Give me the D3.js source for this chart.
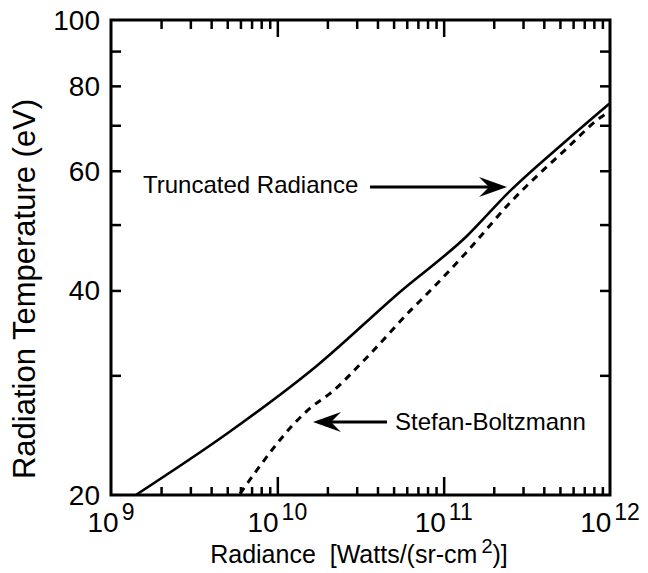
<!DOCTYPE html>
<html><head><meta charset="utf-8">
<script src="https://cdn.jsdelivr.net/npm/d3@7"></script>
<style>
body{margin:0;background:#fff}
svg{display:block}
text{font-family:"Liberation Sans",Arial,Helvetica,sans-serif;fill:#000}
</style>
</head><body>
<svg id="chart" width="648" height="573"></svg>
<script>
// ---- data ----
const truncRadiance = [1.41e9, 5.19e9, 1.73e10, 5.46e10, 1.38e11, 2.50e11, 5.52e11, 9.9e11];
const truncTemp     = [20.0,   24.8,   31.0,    39.8,    48.1,    56.0,    66.6,    75.3];
const sbRadiance = [5.97e9, 1.62e10, 2.07e10, 3.46e10, 6.54e10, 7.52e10, 1.38e11, 2.50e11, 5.52e11, 8.71e11, 9.6e11];
const sbTemp     = [20.1,   27.0,    28.2,    31.9,    37.7,    39.0,    45.6,    53.8,    64.8,    71.8,    73.0];
const xDecades = [1e9, 1e10, 1e11, 1e12];
const xExponents = ["9", "10", "11", "12"];
const yLabelTicks = [20, 40, 60, 80, 100];
const yMinorTicks = [30, 50, 70, 90];
const labelTruncated = "Truncated Radiance";
const labelSB = "Stefan-Boltzmann";
const xTitle = "Radiance  [Watts/(sr-cm";
const xTitleSup = "2";
const xTitleEnd = ")]";
const yTitle = "Radiation Temperature (eV)";

// ---- layout ----
const L = 111, R = 610, T = 20, B = 495;
const svg = d3.select("#chart");
const x = d3.scaleLog().domain([1e9, 1e12]).range([L, R]);
const y = d3.scaleLog().domain([20, 100]).range([B, T]);

const xMinor = [];
xDecades.slice(0, 3).forEach(d => { for (let k = 2; k <= 9; k++) xMinor.push(d * k); });
const xMajorInner = [1e10, 1e11];
const yAllTicks = yLabelTicks.concat(yMinorTicks).filter(v => v > 20 && v < 100);

function styleAxis(g) {
  g.select(".domain").remove();
  g.selectAll(".tick line").attr("stroke", "#000").attr("stroke-width", 2.5);
  g.selectAll(".tick text").remove();
}
svg.append("g").attr("transform", `translate(0,${B})`)
  .call(d3.axisBottom(x).tickValues(xMinor).tickSize(-8).tickFormat(() => "")).call(styleAxis);
svg.append("g").attr("transform", `translate(0,${B})`)
  .call(d3.axisBottom(x).tickValues(xMajorInner).tickSize(-18).tickFormat(() => "")).call(styleAxis);
svg.append("g").attr("transform", `translate(0,${T})`)
  .call(d3.axisTop(x).tickValues(xMinor).tickSize(-9).tickFormat(() => "")).call(styleAxis);
svg.append("g").attr("transform", `translate(0,${T})`)
  .call(d3.axisTop(x).tickValues(xMajorInner).tickSize(-17).tickFormat(() => "")).call(styleAxis);
svg.append("g").attr("transform", `translate(${L},0)`)
  .call(d3.axisLeft(y).tickValues(yAllTicks).tickSize(-10).tickFormat(() => "")).call(styleAxis);
svg.append("g").attr("transform", `translate(${R},0)`)
  .call(d3.axisRight(y).tickValues(yAllTicks).tickSize(-10).tickFormat(() => "")).call(styleAxis);

svg.append("rect").attr("x", L).attr("y", T).attr("width", R - L).attr("height", B - T)
  .attr("fill", "none").attr("stroke", "#000").attr("stroke-width", 3);

svg.append("g").selectAll("text").data(yLabelTicks).join("text")
  .attr("x", L - 11).attr("y", d => y(d)).attr("dy", "0.35em")
  .attr("text-anchor", "end").attr("font-size", 28).text(d => d);

xDecades.forEach((d, i) => {
  const t = svg.append("text").attr("x", x(d)).attr("y", 532)
    .attr("text-anchor", "middle").attr("font-size", 28);
  t.append("tspan").text("10");
  t.append("tspan").attr("dx", 3).attr("dy", -12).attr("font-size", 23).text(xExponents[i]);
});

const xt = svg.append("text").attr("x", 359).attr("y", 563)
  .attr("text-anchor", "middle").attr("font-size", 25).attr("xml:space", "preserve");
xt.append("tspan").text(xTitle);
xt.append("tspan").attr("dx", 4).attr("dy", -10).attr("font-size", 20).text(xTitleSup);
xt.append("tspan").attr("dy", 10).text(xTitleEnd);

svg.append("text").attr("transform", `translate(35,289) rotate(-90)`)
  .attr("text-anchor", "middle").attr("font-size", 31).text(yTitle);

const line = d3.line().x(d => x(d[0])).y(d => y(d[1])).curve(d3.curveMonotoneX);
svg.append("path").datum(d3.zip(truncRadiance, truncTemp))
  .attr("d", line).attr("fill", "none").attr("stroke", "#000").attr("stroke-width", 2.6);
svg.append("path").datum(d3.zip(sbRadiance, sbTemp))
  .attr("d", line).attr("fill", "none").attr("stroke", "#000").attr("stroke-width", 3)
  .attr("stroke-dasharray", "7,6");

function arrow(x1, x2, yy) {
  const dir = Math.sign(x2 - x1);
  const hl = 28, hw = 10, notch = 10;
  svg.append("line").attr("x1", x1).attr("x2", x2 - dir * (hl - notch)).attr("y1", yy).attr("y2", yy)
    .attr("stroke", "#000").attr("stroke-width", 3);
  svg.append("path").attr("d",
    `M${x2},${yy} L${x2 - dir * hl},${yy - hw} L${x2 - dir * (hl - notch)},${yy} L${x2 - dir * hl},${yy + hw} Z`)
    .attr("fill", "#000");
}
svg.append("text").attr("x", 143).attr("y", 193).attr("font-size", 24).text(labelTruncated);
arrow(370, 507, 187);
svg.append("text").attr("x", 395).attr("y", 430).attr("font-size", 24).text(labelSB);
arrow(387, 313, 422);
</script>
</body></html>
